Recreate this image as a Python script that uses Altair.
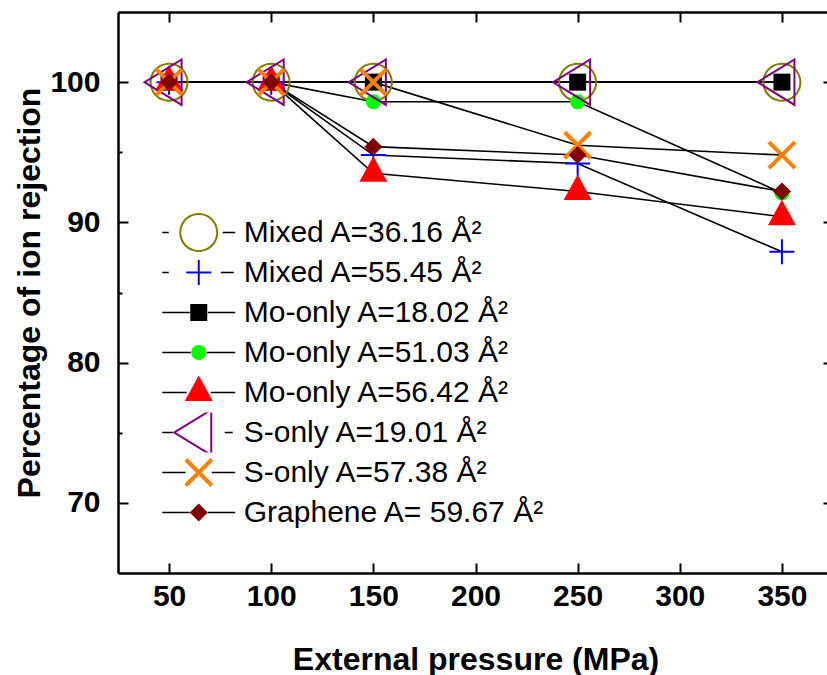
import altair as alt
import pandas as pd

# ---------------- data ----------------
pressure = [50, 100, 150, 250, 350]

series_names = [
    "Mixed A=36.16 Å²",
    "Mixed A=55.45 Å²",
    "Mo-only A=18.02 Å²",
    "Mo-only A=51.03 Å²",
    "Mo-only A=56.42 Å²",
    "S-only A=19.01 Å²",
    "S-only A=57.38 Å²",
    "Graphene A= 59.67 Å²",
]

mixed_3616 = [100, 100, 100, 100, 100]
mixed_5545 = [100, 100, 94.8, 94.2, 87.9]
mo_1802 = [100, 100, 100, 100, 100]
mo_5103 = [100, 100, 98.6, 98.6, 92.1]
mo_5642 = [100, 100, 93.5, 92.2, 90.4]
s_1901 = [100, 100, 100, 100, 100]
s_5738 = [100, 100, 100, 95.5, 94.8]
graphene_5967 = [100, 100, 95.4, 94.8, 92.2]

series_values = [mixed_3616, mixed_5545, mo_1802, mo_5103, mo_5642,
                 s_1901, s_5738, graphene_5967]

x_ticks = [50, 100, 150, 200, 250, 300, 350]
y_ticks = [70, 80, 90, 100]
y_minor_ticks = [75, 85, 95]

# ---------------- styles ----------------
colors = ["#808000", "#0000FF", "#000000", "#00FF00",
          "#FF0000", "#800080", "#FF8000", "#800000"]

# marker shapes (pixel units, point size 4 -> scale factor 1)
marker_paths = [
    # open olive circle (ring)
    "M-19.5,0A19.5,19.5 0 1,0 19.5,0A19.5,19.5 0 1,0 -19.5,0Z"
    "M-17.5,0A17.5,17.5 0 1,1 17.5,0A17.5,17.5 0 1,1 -17.5,0Z",
    # blue plus
    "M-12.5,-1L12.5,-1L12.5,1L-12.5,1Z M-1,-12.5L1,-12.5L1,12.5L-1,12.5Z",
    # black square
    "M-8.5,-8.5L8.5,-8.5L8.5,8.5L-8.5,8.5Z",
    # green circle
    "M-7.5,0A7.5,7.5 0 1,0 7.5,0A7.5,7.5 0 1,0 -7.5,0Z",
    # red triangle up
    "M0,-17L14,8.5L-14,8.5Z",
    # open purple triangle left (ring)
    "M-26.5,0L13.5,-24.5L13.5,24.5Z M-22.66,0L11.5,20.92L11.5,-20.92Z",
    # orange X
    "M-11.6,-14.4L14.4,11.6L11.6,14.4L-14.4,-11.6Z M11.6,-14.4L14.4,-11.6L-11.6,14.4L-14.4,11.6Z",
    # dark red diamond
    "M0,-9L9,0L0,9L-9,0Z",
]

# legend line segments on both sides of the markers
legend_line_paths = [
    "M-36.5,0L-30,0M24,0L36.5,0",
    "M-36.5,0L-30,0M22,0L35,0",
    "M-36.5,0L-9,0M9,0L36.5,0",
    "M-36.5,0L-8,0M8,0L36.5,0",
    "M-36.5,0L-12,0M12,0L36.5,0",
    "M-36.5,0L-26,0M26,0L34,0",
    "M-36.5,0L-13,0M13,0L36.5,0",
    "M-36.5,0L-9,0M9,0L36.5,0",
]

rows = []
for name, vals in zip(series_names, series_values):
    for p, v in zip(pressure, vals):
        rows.append({"series": name, "lbl": name, "pressure": p, "rejection": v})
df = pd.DataFrame(rows)

FONT = "Liberation Sans"

x_scale = alt.Scale(domain=[25, 375], range=[0, 715], nice=False, zero=False)
y_scale = alt.Scale(domain=[65, 105], nice=False, zero=False)

common_axis = dict(grid=False, tickColor="black", tickWidth=2,
                   domainColor="black", domainWidth=2.5)

axis_bottom = alt.Axis(
    orient="bottom", values=x_ticks, tickSize=alt.ExprRef(expr="-10"),
    labelFont=FONT, labelFontSize=30, labelFontWeight="bold", labelColor="black",
    labelPadding=18, labelFlush=False,
    title="External pressure (MPa)", titleFont=FONT, titleFontSize=32,
    titleFontWeight="bold", titleColor="black", titlePadding=33,
    **common_axis)

axis_left = alt.Axis(
    orient="left", values=y_ticks, tickSize=alt.ExprRef(expr="-10"),
    labelFont=FONT, labelFontSize=30, labelFontWeight="bold", labelColor="black",
    labelPadding=28, labelFlush=False,
    title="Percentage of ion rejection", titleFont=FONT, titleFontSize=32,
    titleFontWeight="bold", titleColor="black", titleAngle=270,
    titleX=-89, titleY=280.5, titleAlign="center", titleBaseline="middle",
    **common_axis)

axis_top = alt.Axis(orient="top", values=x_ticks, tickSize=alt.ExprRef(expr="-10"),
                    labels=False, title="", **common_axis)
axis_right = alt.Axis(orient="right", values=y_ticks, tickSize=alt.ExprRef(expr="-10"),
                      labels=False, title="", offset=6, **common_axis)
axis_minor = alt.Axis(orient="left", values=y_minor_ticks, tickSize=alt.ExprRef(expr="-4"),
                      labels=False, domain=False, title="", grid=False,
                      tickColor="black", tickWidth=2)

LEG_X = 42.25
LEG_Y = 200.5
SYM_OFF = 23.5
LAB_OFF = 30

lines = alt.Chart(df).mark_line(color="black", strokeWidth=1.6).encode(
    x=alt.X("pressure:Q", scale=x_scale, axis=axis_bottom),
    y=alt.Y("rejection:Q", scale=y_scale, axis=axis_left),
    detail="series:N",
)

legend_lines = alt.Chart(df).mark_point(
    filled=False, color="black", strokeWidth=1.6, opacity=0, size=4
).encode(
    x=alt.X("pressure:Q", scale=x_scale, axis=None),
    y=alt.Y("rejection:Q", scale=y_scale, axis=axis_minor),
    shape=alt.Shape(
        "lbl:N",
        scale=alt.Scale(domain=series_names, range=legend_line_paths),
        legend=alt.Legend(
            title=None, orient="none", legendX=LEG_X, legendY=LEG_Y,
            symbolSize=4, symbolOpacity=1, symbolStrokeColor="black",
            symbolStrokeWidth=1.6, symbolFillColor="transparent",
            symbolOffset=SYM_OFF,
            labelOpacity=0, labelFont=FONT, labelFontSize=30, labelLimit=500,
            labelOffset=LAB_OFF, clipHeight=40, rowPadding=0, padding=0,
        ),
    ),
)

marker_legend = alt.Legend(
    title=None, orient="none", legendX=LEG_X, legendY=LEG_Y,
    symbolSize=4, symbolStrokeWidth=0, symbolOpacity=1, symbolOffset=SYM_OFF,
    labelFont=FONT, labelFontSize=30, labelColor="black", labelLimit=500,
    labelOffset=LAB_OFF, clipHeight=40, rowPadding=0, padding=0,
)

markers = alt.Chart(df).mark_point(filled=True, size=4, opacity=1, strokeWidth=0).encode(
    x=alt.X("pressure:Q", scale=x_scale, axis=axis_top),
    y=alt.Y("rejection:Q", scale=y_scale, axis=axis_right),
    color=alt.Color("series:N", scale=alt.Scale(domain=series_names, range=colors),
                    legend=marker_legend),
    shape=alt.Shape("series:N", scale=alt.Scale(domain=series_names, range=marker_paths),
                    legend=marker_legend),
)

chart = (
    alt.layer(lines, legend_lines, markers)
    .resolve_scale(shape="independent", color="independent")
    .resolve_axis(x="independent", y="independent")
    .properties(
        width=709, height=561,
        autosize=alt.AutoSizeParams(type="none"),
        padding={"left": 118, "top": 12, "right": 0, "bottom": 102},
        background="white",
    )
    .configure_view(stroke="transparent")
)

chart.save("out.html", embed_options={"renderer": "svg", "actions": False})
